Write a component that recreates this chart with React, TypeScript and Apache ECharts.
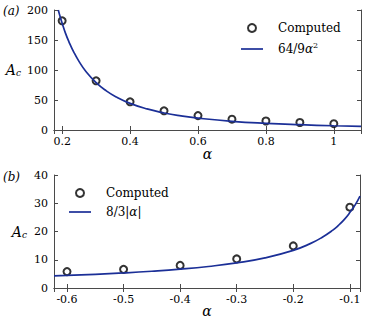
import React, { useEffect, useRef } from "react";
import * as echarts from "echarts";

// Panel (a)
const aComputedX = [0.2, 0.3, 0.4, 0.5, 0.6, 0.7, 0.8, 0.9, 1.0];
const aComputedY = [182, 82, 47, 32, 24, 18, 15, 12.5, 10.5];
const aCurveX = [0.1886, 0.195, 0.2, 0.21, 0.22, 0.235, 0.25, 0.27, 0.3, 0.33, 0.36, 0.4, 0.45, 0.5, 0.55, 0.6, 0.7, 0.8, 0.9, 1.0, 1.08];
const aCurveY = [200, 187, 178, 161, 147, 129, 114, 97.5, 79, 65.3, 54.9, 44.4, 35.1, 28.4, 23.5, 19.8, 14.5, 11.1, 8.8, 7.1, 6.1];

// Panel (b)
const bComputedX = [-0.6, -0.5, -0.4, -0.3, -0.2, -0.1];
const bComputedY = [5.8, 6.6, 8.0, 10.3, 14.9, 28.6];
const bCurveX = [-0.623, -0.6, -0.55, -0.5, -0.45, -0.4, -0.35, -0.3, -0.25, -0.2, -0.17, -0.15, -0.13, -0.12, -0.11, -0.1, -0.09, -0.082];
const bCurveY = [4.28, 4.44, 4.85, 5.33, 5.93, 6.67, 7.62, 8.89, 10.67, 13.33, 15.7, 17.8, 20.5, 22.2, 24.2, 26.7, 29.6, 32.5];

const aTicksY = { min: 0, max: 200, interval: 50 };
const bTicksY = { min: 0, max: 40, interval: 10 };

const FONT = "DejaVu Serif";
const BLUE = "#1b2f97";
const AXIS = "#4a4a4a";
const LINE_ICON = "path://M0,0L22,0L22,1.7L0,1.7Z";

const zip = (xs: number[], ys: number[]) => xs.map((x, i) => [x, ys[i]]);

export default function App() {
  const ref = useRef<HTMLDivElement>(null);
  useEffect(() => {
    if (!ref.current) return;
    const chart = echarts.init(ref.current, null, { renderer: "svg" });
    const axisLine = { show: true, lineStyle: { color: AXIS, width: 1 } };
    const tick = { show: true, inside: true, length: 4, lineStyle: { color: AXIS } };
    const label = { color: "#000", fontFamily: FONT, fontSize: 11, margin: 6 };
    const nameStyle = {
      color: "#000",
      fontFamily: FONT,
      fontSize: 14,
      rich: {
        i: { fontFamily: FONT, fontStyle: "italic", fontSize: 14, color: "#000" },
        s: { fontFamily: FONT, fontStyle: "italic", fontSize: 9, color: "#000", padding: [6, 0, 0, 0] },
      },
    };
    const mkX = (grid: number, min: number, max: number, main: boolean) => ({
      type: "value",
      gridIndex: grid,
      min,
      max,
      position: main ? "bottom" : "top",
      axisLine,
      axisTick: tick,
      splitLine: { show: false },
      axisLabel: main
        ? { ...label, showMinLabel: false, showMaxLabel: false }
        : { show: false },
      name: main ? "{i|α}" : "",
      nameLocation: "middle",
      nameGap: grid === 0 ? 17 : 16,
      nameMoveOverlap: false,
      nameTextStyle: nameStyle,
    });
    const mkY = (grid: number, t: any, main: boolean) => ({
      type: "value",
      gridIndex: grid,
      min: t.min,
      max: t.max,
      interval: t.interval,
      position: main ? "left" : "right",
      axisLine,
      axisTick: tick,
      splitLine: { show: false },
      axisLabel: main ? label : { show: false },
      name: main ? "{i|A}{s|c}" : "",
      nameLocation: "middle",
      nameRotate: 0,
      nameGap: grid === 0 ? 33 : 27,
      nameMoveOverlap: false,
      nameTextStyle: nameStyle,
    });
    const legendText = {
      fontFamily: FONT,
      fontSize: 12,
      color: "#000",
      padding: [0, 0, 0, 10],
      rich: {
        i: { fontFamily: FONT, fontStyle: "italic", fontSize: 12, color: "#000" },
        n: { fontFamily: FONT, fontSize: 12, color: "#000" },
        sup: { fontFamily: FONT, fontSize: 8, color: "#000", padding: [0, 0, 8, 0] },
      },
    };
    const fmt = (name: string) => {
      const n = name.trim();
      if (n === "64/9α²") return "{n|64/9}{i|α}{sup|2}";
      if (n === "8/3|α|") return "{n|8/3|}{i|α}{n||}";
      return n;
    };
    chart.setOption({
      animation: false,
      grid: [
        { left: 54, top: 10, width: 307, height: 120 },
        { left: 54, top: 175, width: 306, height: 113 },
      ],
      xAxis: [
        mkX(0, 0.176, 1.08, true),
        mkX(0, 0.176, 1.08, false),
        mkX(1, -0.623, -0.082, true),
        mkX(1, -0.623, -0.082, false),
      ],
      yAxis: [
        mkY(0, aTicksY, true),
        mkY(0, aTicksY, false),
        mkY(1, bTicksY, true),
        mkY(1, bTicksY, false),
      ],
      legend: [
        {
          data: ["Computed", { name: "64/9α²", icon: LINE_ICON, itemStyle: { color: BLUE } }],
          orient: "vertical",
          left: 236,
          top: 17,
          itemWidth: 22,
          itemHeight: 8,
          itemGap: 7,
          formatter: fmt,
          textStyle: legendText,
        },
        {
          data: ["Computed ", { name: "8/3|α|", icon: LINE_ICON, itemStyle: { color: BLUE } }],
          orient: "vertical",
          left: 64,
          top: 182,
          itemWidth: 22,
          itemHeight: 8,
          itemGap: 7,
          formatter: fmt,
          textStyle: legendText,
        },
      ],
      graphic: [
        { type: "text", left: 3, top: 5, style: { text: "(a)", font: `italic 12px "${FONT}"`, fill: "#000" } },
        { type: "text", left: 3, top: 171, style: { text: "(b)", font: `italic 12px "${FONT}"`, fill: "#000" } },
      ],
      series: [
        {
          name: "64/9α²",
          type: "line",
          xAxisIndex: 0,
          yAxisIndex: 0,
          data: zip(aCurveX, aCurveY),
          smooth: true,
          symbol: "none",
          lineStyle: { color: BLUE, width: 1.7 },
          itemStyle: { color: BLUE },
          clip: true,
        },
        {
          name: "Computed",
          type: "scatter",
          xAxisIndex: 0,
          yAxisIndex: 0,
          data: zip(aComputedX, aComputedY),
          symbol: "emptyCircle",
          symbolSize: 7,
          itemStyle: { color: "#000", borderColor: "#000", borderWidth: 1.6 },
        },
        {
          name: "8/3|α|",
          type: "line",
          xAxisIndex: 2,
          yAxisIndex: 2,
          data: zip(bCurveX, bCurveY),
          smooth: true,
          symbol: "none",
          lineStyle: { color: BLUE, width: 1.7 },
          itemStyle: { color: BLUE },
          clip: true,
        },
        {
          name: "Computed ",
          type: "scatter",
          xAxisIndex: 2,
          yAxisIndex: 2,
          data: zip(bComputedX, bComputedY),
          symbol: "emptyCircle",
          symbolSize: 7,
          itemStyle: { color: "#000", borderColor: "#000", borderWidth: 1.6 },
        },
      ],
    });
    return () => chart.dispose();
  }, []);
  return (
    <div
      ref={ref}
      style={{ position: "fixed", left: 0, top: 0, width: 366, height: 327, background: "#fff" }}
    />
  );
}
